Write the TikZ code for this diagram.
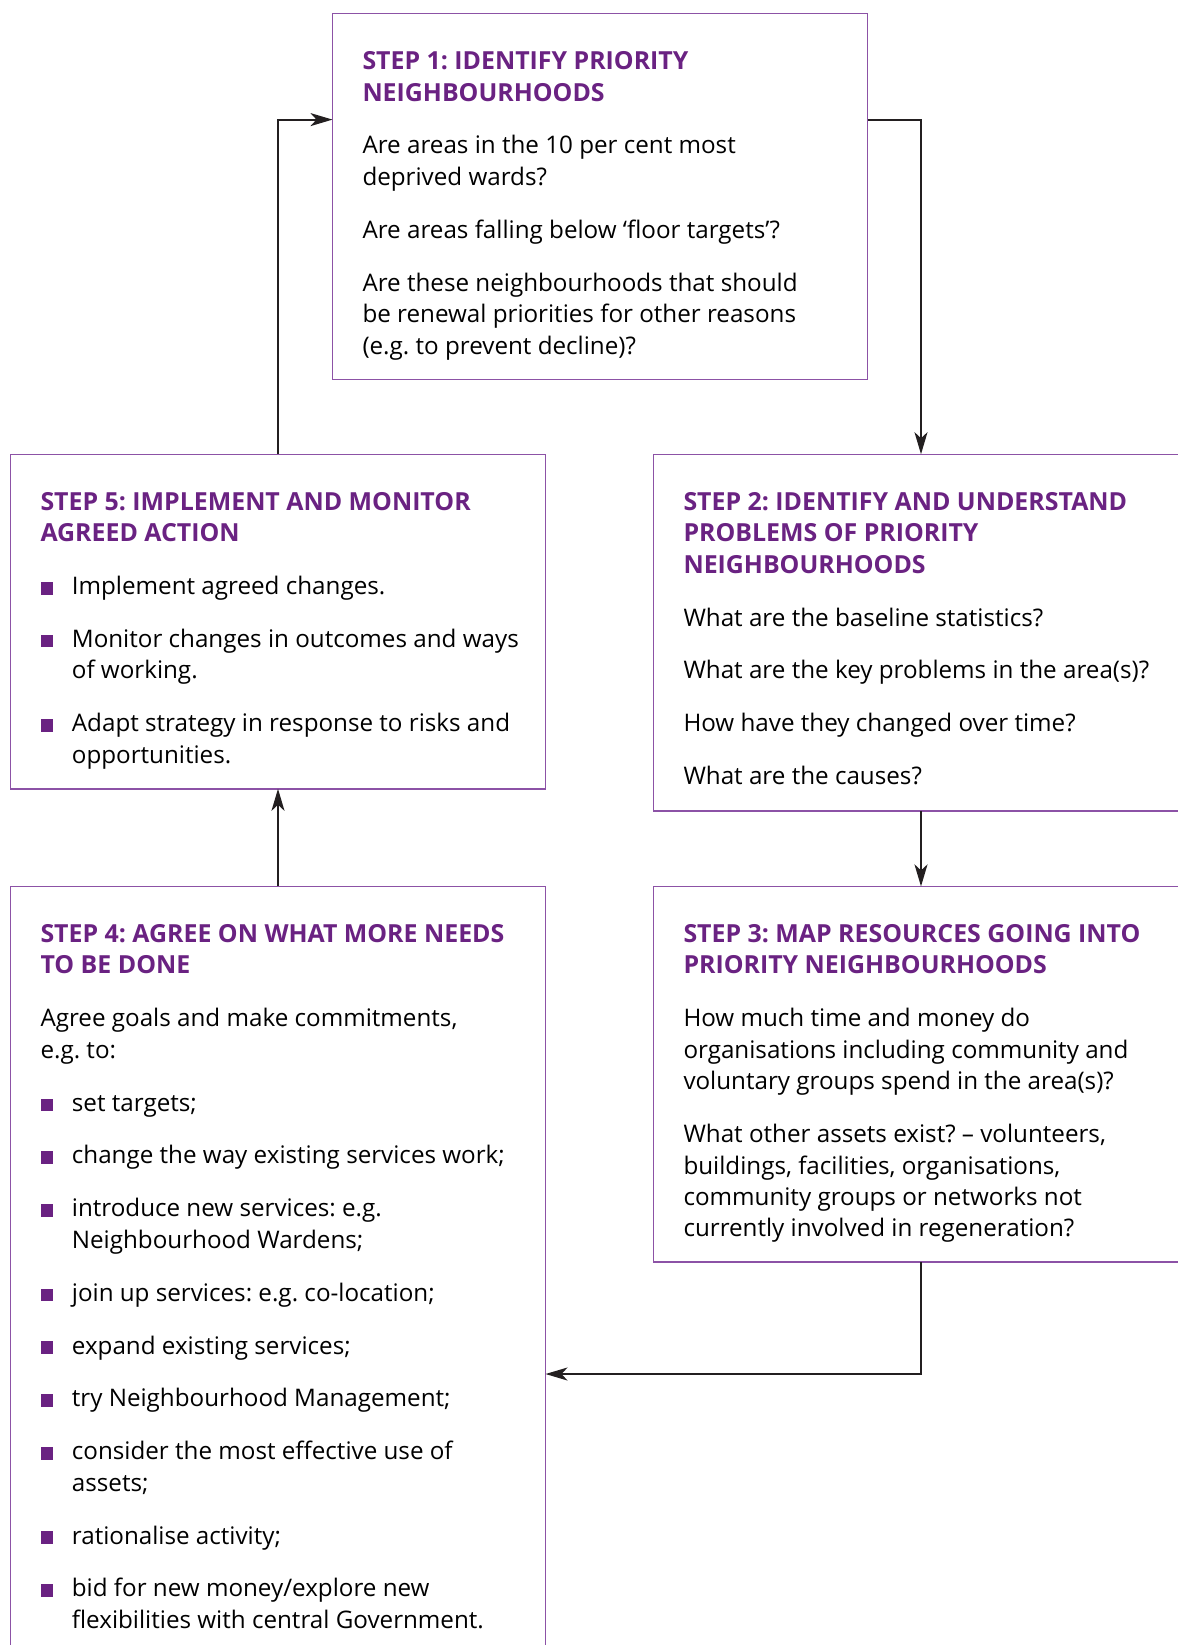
\documentclass[tikz,border=0pt]{standalone}
\usepackage{fontspec}
\setmainfont{Open Sans}
\usetikzlibrary{arrows.meta}
\definecolor{titlec}{RGB}{106,34,130}
\definecolor{borderc}{RGB}{140,82,166}
\definecolor{bulc}{RGB}{106,34,130}
\definecolor{arrc}{RGB}{35,31,32}
\newlength\bind \setlength\bind{15.7pt}
\newcommand\ttl[1]{{\fontsize{12.45pt}{15.73pt}\selectfont\bfseries\color{titlec}#1\par}\setlength\parskip{10.7pt}}
\newcommand\bpar[1]{\hangindent=\bind\hangafter=1\noindent\makebox[\bind][l]{\textcolor{bulc}{\rule{6.3pt}{6.3pt}}}#1\par}
\newcommand\boxtext[1]{\parbox[t]{265pt}{\frenchspacing\rightskip=0pt plus 1fil\fontsize{12.1pt}{15.73pt}\selectfont #1}}
\begin{document}
\begin{tikzpicture}[x=0.5pt,y=-0.5pt,
  stepbox/.style={draw=borderc,line width=0.7pt,minimum width=267.5pt,minimum height=#1,anchor=north west,inner sep=0pt,outer sep=0pt},
  txt/.style={anchor=base west,inner sep=0pt,outer sep=0pt},
  arr/.style={draw=arrc,line width=1pt,-{Stealth[length=11pt,width=6.5pt,inset=3pt]}}]
\useasboundingbox (0,0) rectangle (1178,1645);
\clip (0,0) rectangle (1178,1645);
\fill[white] (0,0) rectangle (1178,1645);

\node[stepbox=183.05pt] (box1) at (332.5,13.6) {};
\node[stepbox=167.3pt] (box5) at (10.5,454.2) {};
\node[stepbox=178.35pt] (box2) at (653.5,454.2) {};
\node[stepbox=187.8pt] (box3) at (653.5,886.4) {};
\node[stepbox=386.8pt] (box4) at (10.5,886.4) {};

\node[txt] (t1) at ([shift={(30,38)}]box1.north west) {\boxtext{%
\ttl{STEP 1: IDENTIFY PRIORITY\\NEIGHBOURHOODS}
Are areas in the 10 per cent most\\deprived wards?\par
Are areas falling below ‘floor targets’?\par
Are these neighbourhoods that should\\be renewal priorities for other reasons\\(e.g. to prevent decline)?\par}};

\node[txt] (t2) at ([shift={(30,38)}]box2.north west) {\boxtext{%
\ttl{STEP 2: IDENTIFY AND UNDERSTAND\\PROBLEMS OF PRIORITY\\NEIGHBOURHOODS}
What are the baseline statistics?\par
What are the key problems in the area(s)?\par
How have they changed over time?\par
What are the causes?\par}};

\node[txt] (t3) at ([shift={(30,38)}]box3.north west) {\boxtext{%
\ttl{STEP 3: MAP RESOURCES GOING INTO\\PRIORITY NEIGHBOURHOODS}
How much time and money do\\organisations including community and\\voluntary groups spend in the area(s)?\par
What other assets exist? – volunteers,\\buildings, facilities, organisations,\\community groups or networks not\\currently involved in regeneration?\par}};

\node[txt] (t5) at ([shift={(30,38)}]box5.north west) {\boxtext{%
\ttl{STEP 5: IMPLEMENT AND MONITOR\\AGREED ACTION}
\bpar{Implement agreed changes.}
\bpar{Monitor changes in outcomes and ways\\of working.}
\bpar{Adapt strategy in response to risks and\\opportunities.}}};

\node[txt] (t4) at ([shift={(30,38)}]box4.north west) {\boxtext{%
\ttl{STEP 4: AGREE ON WHAT MORE NEEDS\\TO BE DONE}
Agree goals and make commitments,\\e.g. to:\par
\bpar{set targets;}
\bpar{change the way existing services work;}
\bpar{introduce new services: e.g.\\Neighbourhood Wardens;}
\bpar{join up services: e.g. co-location;}
\bpar{expand existing services;}
\bpar{try Neighbourhood Management;}
\bpar{consider the most effective use of\\assets;}
\bpar{rationalise activity;}
\bpar{bid for new money/explore new\\flexibilities with central Government.}}};

\draw[arr] ([shift={(0,106)}]box1.north east) -| (box2.north);
\draw[arr] (box2.south) -- (box3.north);
\draw[arr] (box3.south) |- (box4.east |- 0,1374);
\draw[arr] (box4.north) -- (box5.south);
\draw[arr] (box5.north) |- ([shift={(0,106)}]box1.north west);
\end{tikzpicture}
\end{document}
